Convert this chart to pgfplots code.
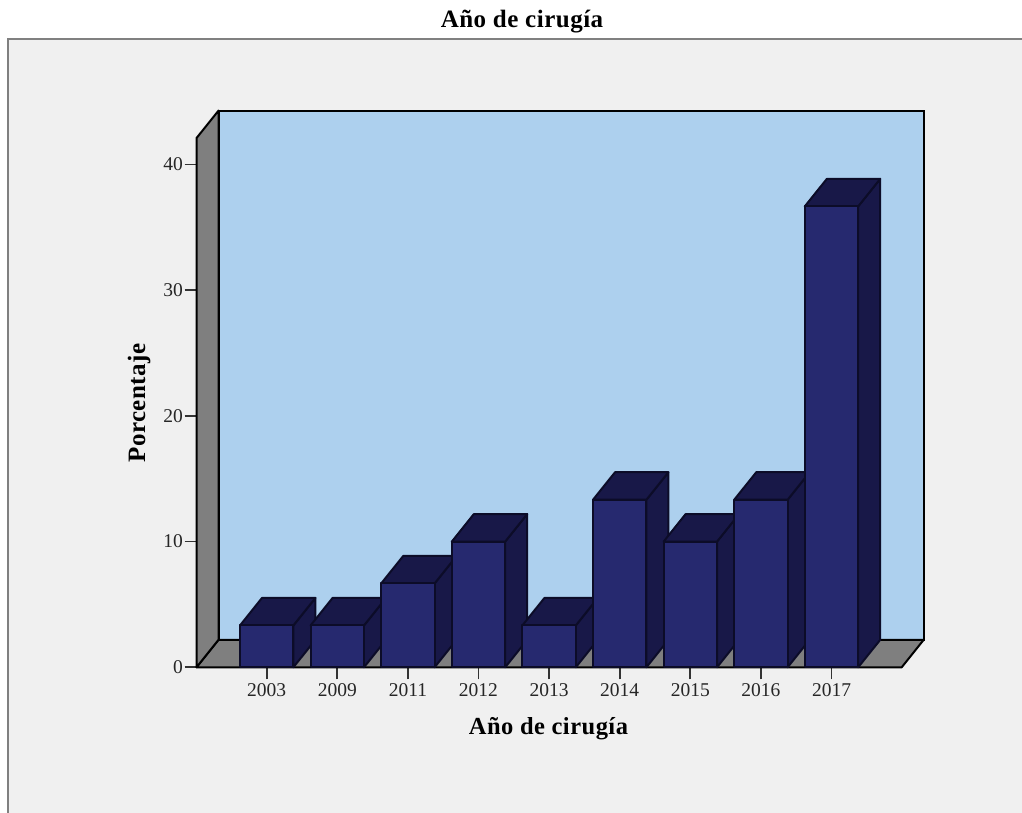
\documentclass[border=0pt]{standalone}
\usepackage{pgfplots}
\usepackage{fontspec}
\setmainfont{Liberation Serif}
\newfontfamily\labelfont[LetterSpace=2]{Liberation Serif}
\pgfplotsset{compat=1.18}

\definecolor{panel}{HTML}{F0F0F0}
\definecolor{panelline}{HTML}{808080}
\definecolor{backwall}{HTML}{ADD0EE}
\definecolor{sidewall}{HTML}{7F7F7F}
\definecolor{barfront}{HTML}{26296F}
\definecolor{barshade}{HTML}{181848}
\definecolor{baredge}{HTML}{0C0C28}

% Depth of the 3D effect, in axis units
\newcommand{\dx}{0.312}
\newcommand{\dy}{2.188}

% One 3D column: side, top, then front face
\newcommand{\cube}[2]{%
  \pgfmathsetmacro\xl{#1-0.378}%
  \pgfmathsetmacro\xr{#1+0.378}%
  \pgfmathsetmacro\xld{\xl+\dx}%
  \pgfmathsetmacro\xrd{\xr+\dx}%
  \pgfmathsetmacro\vd{#2+\dy}%
  \addplot[fill=barshade,draw=baredge,line width=2pt,line join=round]
    coordinates {(\xr,0) (\xr,#2) (\xrd,\vd) (\xrd,\dy)} -- cycle;
  \addplot[fill=barshade,draw=baredge,line width=2pt,line join=round]
    coordinates {(\xl,#2) (\xr,#2) (\xrd,\vd) (\xld,\vd)} -- cycle;
  \addplot[fill=barfront,draw=baredge,line width=2pt,line join=round]
    coordinates {(\xl,0) (\xr,0) (\xr,#2) (\xl,#2)} -- cycle;
}

\begin{document}
\begin{tikzpicture}[x=1pt,y=1pt]
  \path[use as bounding box] (0,0) rectangle (1022,813);
  \fill[panel] (8,0) rectangle (1022,774);
  \draw[panelline,line width=2pt] (8,0) -- (8,774) -- (1022,774);

  \begin{axis}[
    at={(196.5pt,145.7pt)},
    anchor=south west,
    scale only axis,
    width=705.2pt,
    height=529.2pt,
    xmin=-0.994, xmax=8.994,
    ymin=0, ymax=42.1,
    clip=false,
    axis x line=bottom,
    axis y line=left,
    axis line style={-,black,line width=2pt},
    xtick={0,1,2,3,4,5,6,7,8},
    xticklabels={2003,2009,2011,2012,2013,2014,2015,2016,2017},
    ytick={0,10,20,30,40},
    tick align=outside,
    major tick length=12pt,
    tick style={line width=1.8pt,color=black!80},
    ticklabel style={font=\fontsize{19.5}{21}\selectfont,text=black!85},
    /pgf/number format/assume math mode=true,
    /pgf/number format/1000 sep={},
    xticklabel style={yshift=-0.5pt},
    yticklabel style={xshift=2pt},
    title={Año de cirugía},
    title style={at={(axis description cs:0.4616,1.208)},anchor=center,
      font=\fontsize{25}{28}\labelfont\bfseries},
    xlabel={Año de cirugía},
    xlabel style={at={(axis description cs:0.4991,-0.1165)},anchor=center,
      font=\fontsize{24.5}{28}\labelfont\bfseries},
    ylabel={Porcentaje},
    ylabel style={at={(axis description cs:-0.0815,0.4994)},anchor=center,
      font=\fontsize{25}{28}\labelfont\bfseries},
  ]
    % Back wall, floor and left wall
    \addplot[fill=backwall,draw=black,line width=2pt]
      coordinates {(-0.682,2.188) (9.306,2.188) (9.306,44.288) (-0.682,44.288)} -- cycle;
    \addplot[fill=sidewall,draw=black,line width=2pt,line join=round]
      coordinates {(-0.994,0) (8.994,0) (9.306,2.188) (-0.682,2.188)} -- cycle;
    \addplot[fill=sidewall,draw=black,line width=2pt,line join=round]
      coordinates {(-0.994,0) (-0.994,42.1) (-0.682,44.288) (-0.682,2.188)} -- cycle;

    % Percentage per year of surgery
    \cube{0}{3.33}
    \cube{1}{3.33}
    \cube{2}{6.67}
    \cube{3}{10}
    \cube{4}{3.33}
    \cube{5}{13.33}
    \cube{6}{10}
    \cube{7}{13.33}
    \cube{8}{36.67}
  \end{axis}
\end{tikzpicture}
\end{document}
